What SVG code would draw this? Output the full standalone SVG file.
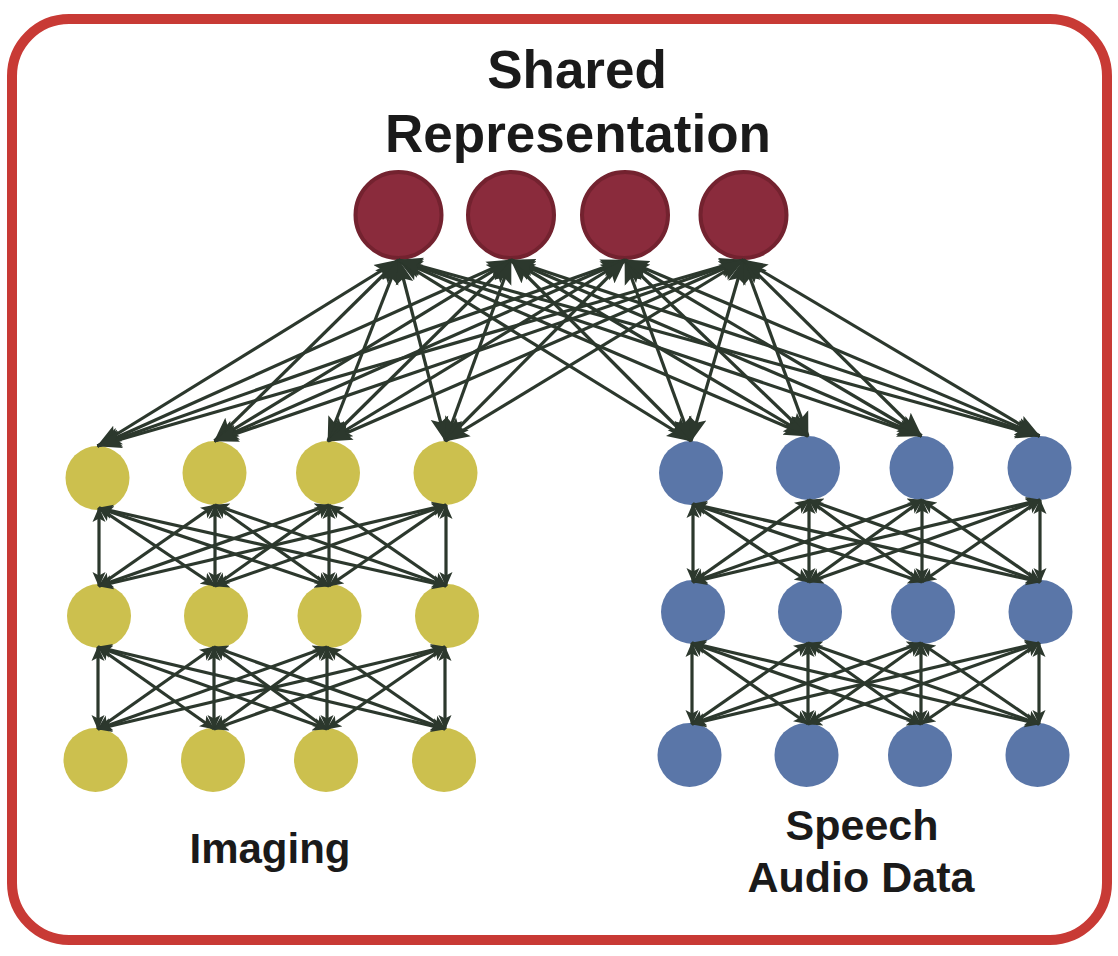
<svg xmlns="http://www.w3.org/2000/svg" width="1118" height="956" viewBox="0 0 1118 956">
<style>
.frame{fill:#ffffff;stroke:#C83A35;stroke-width:10}
.title{font-family:"Liberation Sans",Arial,sans-serif;font-weight:bold;fill:#1a1a1a;text-anchor:middle}
.red{fill:#8A2B3C;stroke:#73222F;stroke-width:4}
.yel{fill:#CCC04E}
.blu{fill:#5A76A8}
.ct{stroke:#2C382D;stroke-width:3.2;fill:none;marker-start:url(#bigHead);marker-end:url(#bigHead)}
.cl{stroke:#2C382D;stroke-width:3.2;fill:none;marker-start:url(#smallHead);marker-end:url(#smallHead)}
</style>
<defs>
<marker id="bigHead" markerUnits="userSpaceOnUse" markerWidth="25" markerHeight="19" refX="24" refY="9" orient="auto-start-reverse" viewBox="0 0 25 18">
<path d="M0,0 L25,9 L0,18 L5,9 z" fill="#2C382D"/>
</marker>
<marker id="smallHead" markerUnits="userSpaceOnUse" markerWidth="15" markerHeight="14" refX="14" refY="6.5" orient="auto-start-reverse" viewBox="0 0 15 13">
<path d="M0,0 L15,6.5 L0,13 L3.5,6.5 z" fill="#2C382D"/>
</marker>
</defs>
<rect class="frame" x="12" y="19" width="1095" height="921" rx="57" ry="57"/>
<g id="label-shared">
<text class="title" x="577" y="88" font-size="53">Shared</text>
<text class="title" x="578" y="152" font-size="53">Representation</text>
</g>
<g id="label-imaging"><text class="title" x="270" y="863" font-size="42">Imaging</text></g>
<g id="label-speech">
<text class="title" x="862" y="840" font-size="43">Speech</text>
<text class="title" x="861" y="892" font-size="43">Audio Data</text>
</g>
<g id="shared-nodes">
<g id="s1"><circle class="red" cx="398.5" cy="215" r="43"/></g>
<g id="s2"><circle class="red" cx="511" cy="215" r="43"/></g>
<g id="s3"><circle class="red" cx="625" cy="215" r="43"/></g>
<g id="s4"><circle class="red" cx="743.5" cy="215" r="43"/></g>
</g>
<g id="imaging-nodes">
<g id="y11"><circle class="yel" cx="97.5" cy="478" r="32"/></g>
<g id="y12"><circle class="yel" cx="214.5" cy="473" r="32"/></g>
<g id="y13"><circle class="yel" cx="328" cy="473" r="32"/></g>
<g id="y14"><circle class="yel" cx="445.5" cy="473" r="32"/></g>
<g id="y21"><circle class="yel" cx="99" cy="616" r="32"/></g>
<g id="y22"><circle class="yel" cx="216" cy="616" r="32"/></g>
<g id="y23"><circle class="yel" cx="329.5" cy="616" r="32"/></g>
<g id="y24"><circle class="yel" cx="447" cy="616" r="32"/></g>
<g id="y31"><circle class="yel" cx="95.5" cy="760" r="32"/></g>
<g id="y32"><circle class="yel" cx="213" cy="760" r="32"/></g>
<g id="y33"><circle class="yel" cx="326" cy="760" r="32"/></g>
<g id="y34"><circle class="yel" cx="444" cy="760" r="32"/></g>
</g>
<g id="speech-nodes">
<g id="b11"><circle class="blu" cx="691" cy="473" r="32"/></g>
<g id="b12"><circle class="blu" cx="808" cy="468" r="32"/></g>
<g id="b13"><circle class="blu" cx="921.5" cy="468" r="32"/></g>
<g id="b14"><circle class="blu" cx="1039.5" cy="468" r="32"/></g>
<g id="b21"><circle class="blu" cx="693" cy="612" r="32"/></g>
<g id="b22"><circle class="blu" cx="810" cy="612" r="32"/></g>
<g id="b23"><circle class="blu" cx="923" cy="612" r="32"/></g>
<g id="b24"><circle class="blu" cx="1040.5" cy="612" r="32"/></g>
<g id="b31"><circle class="blu" cx="689.5" cy="755" r="32"/></g>
<g id="b32"><circle class="blu" cx="806.5" cy="755" r="32"/></g>
<g id="b33"><circle class="blu" cx="920" cy="755" r="32"/></g>
<g id="b34"><circle class="blu" cx="1037.5" cy="755" r="32"/></g>
</g>
<g id="connectors">
<line class="ct" x1="398.5" y1="260" x2="97.5" y2="446"/>
<line class="ct" x1="398.5" y1="260" x2="214.5" y2="441"/>
<line class="ct" x1="398.5" y1="260" x2="328" y2="441"/>
<line class="ct" x1="398.5" y1="260" x2="445.5" y2="441"/>
<line class="ct" x1="398.5" y1="260" x2="691" y2="441"/>
<line class="ct" x1="398.5" y1="260" x2="808" y2="436"/>
<line class="ct" x1="398.5" y1="260" x2="921.5" y2="436"/>
<line class="ct" x1="398.5" y1="260" x2="1039.5" y2="436"/>
<line class="ct" x1="511" y1="260" x2="97.5" y2="446"/>
<line class="ct" x1="511" y1="260" x2="214.5" y2="441"/>
<line class="ct" x1="511" y1="260" x2="328" y2="441"/>
<line class="ct" x1="511" y1="260" x2="445.5" y2="441"/>
<line class="ct" x1="511" y1="260" x2="691" y2="441"/>
<line class="ct" x1="511" y1="260" x2="808" y2="436"/>
<line class="ct" x1="511" y1="260" x2="921.5" y2="436"/>
<line class="ct" x1="511" y1="260" x2="1039.5" y2="436"/>
<line class="ct" x1="625" y1="260" x2="97.5" y2="446"/>
<line class="ct" x1="625" y1="260" x2="214.5" y2="441"/>
<line class="ct" x1="625" y1="260" x2="328" y2="441"/>
<line class="ct" x1="625" y1="260" x2="445.5" y2="441"/>
<line class="ct" x1="625" y1="260" x2="691" y2="441"/>
<line class="ct" x1="625" y1="260" x2="808" y2="436"/>
<line class="ct" x1="625" y1="260" x2="921.5" y2="436"/>
<line class="ct" x1="625" y1="260" x2="1039.5" y2="436"/>
<line class="ct" x1="743.5" y1="260" x2="97.5" y2="446"/>
<line class="ct" x1="743.5" y1="260" x2="214.5" y2="441"/>
<line class="ct" x1="743.5" y1="260" x2="328" y2="441"/>
<line class="ct" x1="743.5" y1="260" x2="445.5" y2="441"/>
<line class="ct" x1="743.5" y1="260" x2="691" y2="441"/>
<line class="ct" x1="743.5" y1="260" x2="808" y2="436"/>
<line class="ct" x1="743.5" y1="260" x2="921.5" y2="436"/>
<line class="ct" x1="743.5" y1="260" x2="1039.5" y2="436"/>
<line class="cl" x1="99" y1="508" x2="99" y2="586"/>
<line class="cl" x1="99" y1="508" x2="215" y2="586"/>
<line class="cl" x1="99" y1="508" x2="329" y2="586"/>
<line class="cl" x1="99" y1="508" x2="446" y2="586"/>
<line class="cl" x1="215" y1="505" x2="99" y2="586"/>
<line class="cl" x1="215" y1="505" x2="215" y2="586"/>
<line class="cl" x1="215" y1="505" x2="329" y2="586"/>
<line class="cl" x1="215" y1="505" x2="446" y2="586"/>
<line class="cl" x1="329" y1="505" x2="99" y2="586"/>
<line class="cl" x1="329" y1="505" x2="215" y2="586"/>
<line class="cl" x1="329" y1="505" x2="329" y2="586"/>
<line class="cl" x1="329" y1="505" x2="446" y2="586"/>
<line class="cl" x1="446" y1="505" x2="99" y2="586"/>
<line class="cl" x1="446" y1="505" x2="215" y2="586"/>
<line class="cl" x1="446" y1="505" x2="329" y2="586"/>
<line class="cl" x1="446" y1="505" x2="446" y2="586"/>
<line class="cl" x1="98" y1="647" x2="98" y2="729"/>
<line class="cl" x1="98" y1="647" x2="214" y2="729"/>
<line class="cl" x1="98" y1="647" x2="327" y2="729"/>
<line class="cl" x1="98" y1="647" x2="445" y2="729"/>
<line class="cl" x1="214" y1="647" x2="98" y2="729"/>
<line class="cl" x1="214" y1="647" x2="214" y2="729"/>
<line class="cl" x1="214" y1="647" x2="327" y2="729"/>
<line class="cl" x1="214" y1="647" x2="445" y2="729"/>
<line class="cl" x1="327" y1="647" x2="98" y2="729"/>
<line class="cl" x1="327" y1="647" x2="214" y2="729"/>
<line class="cl" x1="327" y1="647" x2="327" y2="729"/>
<line class="cl" x1="327" y1="647" x2="445" y2="729"/>
<line class="cl" x1="445" y1="647" x2="98" y2="729"/>
<line class="cl" x1="445" y1="647" x2="214" y2="729"/>
<line class="cl" x1="445" y1="647" x2="327" y2="729"/>
<line class="cl" x1="445" y1="647" x2="445" y2="729"/>
<line class="cl" x1="693" y1="504" x2="693" y2="582"/>
<line class="cl" x1="693" y1="504" x2="809" y2="582"/>
<line class="cl" x1="693" y1="504" x2="922" y2="582"/>
<line class="cl" x1="693" y1="504" x2="1040" y2="582"/>
<line class="cl" x1="809" y1="500" x2="693" y2="582"/>
<line class="cl" x1="809" y1="500" x2="809" y2="582"/>
<line class="cl" x1="809" y1="500" x2="922" y2="582"/>
<line class="cl" x1="809" y1="500" x2="1040" y2="582"/>
<line class="cl" x1="922" y1="500" x2="693" y2="582"/>
<line class="cl" x1="922" y1="500" x2="809" y2="582"/>
<line class="cl" x1="922" y1="500" x2="922" y2="582"/>
<line class="cl" x1="922" y1="500" x2="1040" y2="582"/>
<line class="cl" x1="1040" y1="500" x2="693" y2="582"/>
<line class="cl" x1="1040" y1="500" x2="809" y2="582"/>
<line class="cl" x1="1040" y1="500" x2="922" y2="582"/>
<line class="cl" x1="1040" y1="500" x2="1040" y2="582"/>
<line class="cl" x1="692" y1="643" x2="692" y2="724"/>
<line class="cl" x1="692" y1="643" x2="808" y2="724"/>
<line class="cl" x1="692" y1="643" x2="921" y2="724"/>
<line class="cl" x1="692" y1="643" x2="1039" y2="724"/>
<line class="cl" x1="808" y1="643" x2="692" y2="724"/>
<line class="cl" x1="808" y1="643" x2="808" y2="724"/>
<line class="cl" x1="808" y1="643" x2="921" y2="724"/>
<line class="cl" x1="808" y1="643" x2="1039" y2="724"/>
<line class="cl" x1="921" y1="643" x2="692" y2="724"/>
<line class="cl" x1="921" y1="643" x2="808" y2="724"/>
<line class="cl" x1="921" y1="643" x2="921" y2="724"/>
<line class="cl" x1="921" y1="643" x2="1039" y2="724"/>
<line class="cl" x1="1039" y1="643" x2="692" y2="724"/>
<line class="cl" x1="1039" y1="643" x2="808" y2="724"/>
<line class="cl" x1="1039" y1="643" x2="921" y2="724"/>
<line class="cl" x1="1039" y1="643" x2="1039" y2="724"/>
</g>
</svg>
